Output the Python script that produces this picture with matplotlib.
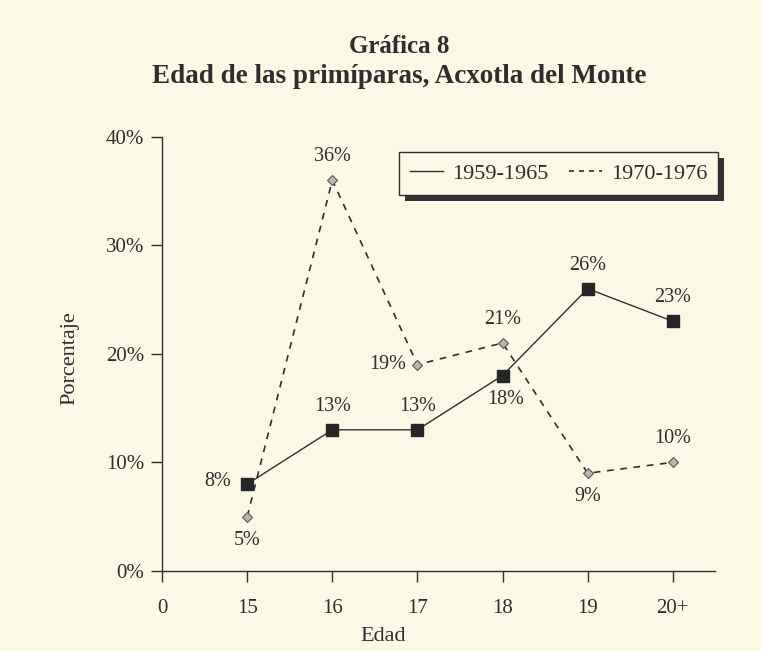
import matplotlib
matplotlib.use("Agg")
import matplotlib.pyplot as plt
from matplotlib.patches import Rectangle
from matplotlib.lines import Line2D

# Data
ages = ["15", "16", "17", "18", "19", "20+"]
tick_labels = ["0"] + ages
serie_1959 = [8, 13, 13, 18, 26, 23]
serie_1970 = [5, 36, 19, 21, 9, 10]
legend_labels = ["1959-1965", "1970-1976"]

BG = "#fbf9e5"
INK = "#2e2e2e"

plt.rcParams["font.family"] = ["Liberation Serif", "DejaVu Serif"]

fig = plt.figure(figsize=(7.61, 6.51), dpi=100, facecolor=BG)
ax = fig.add_axes([0.213, 0.123, 0.727, 0.667], facecolor=BG)

x = list(range(1, len(ages) + 1))

ax.plot(x, serie_1959, color=INK, lw=1.0, marker="s", ms=8.5,
        mfc="#262626", mec="#262626", zorder=3)
ax.plot(x, serie_1970, color=INK, lw=1.2, ls=(0, (4, 4)), marker="D", ms=5,
        mfc="#b8b8b0", mec="#555555", mew=0.8, zorder=3)

# data labels
lab_fs = 14.5
def lab(xi, yi, txt, dx, dy, ha="center"):
    ax.annotate(txt, (xi, yi), xytext=(dx, dy), textcoords="offset points",
                ha=ha, va="center", fontsize=lab_fs, color=INK)

pos59 = [(-12, 2, "right"), (0, 17, "center"), (0, 17, "center"),
         (2, -17, "center"), (0, 17, "center"), (0, 17, "center")]
pos70 = [(0, -17, "center"), (0, 17, "center"), (-8, 0, "right"),
         (0, 17, "center"), (0, -17, "center"), (0, 17, "center")]
for xi, v, (dx, dy, ha) in zip(x, serie_1959, pos59):
    lab(xi, v, f"{v}%", dx, dy, ha)
for xi, v, (dx, dy, ha) in zip(x, serie_1970, pos70):
    lab(xi, v, f"{v}%", dx, dy, ha)

ax.set_xlim(0, 6.5)
ax.set_ylim(0, 40)
ax.set_xticks(range(0, 7))
ax.set_xticklabels(tick_labels)
ax.set_yticks([0, 10, 20, 30, 40])
ax.set_yticklabels([f"{t}%" for t in [0, 10, 20, 30, 40]])
ax.tick_params(axis="both", direction="out", length=8, width=1, colors=INK,
               labelsize=15, pad=5)
ax.tick_params(axis="x", pad=12)
for s in ["top", "right"]:
    ax.spines[s].set_visible(False)
for s in ["left", "bottom"]:
    ax.spines[s].set_color(INK)
    ax.spines[s].set_linewidth(1.0)

ax.set_ylabel("Porcentaje", fontsize=16, color=INK)
ax.yaxis.set_label_coords(-0.15, 0.49)
ax.set_xlabel("Edad", fontsize=16, color=INK)
ax.xaxis.set_label_coords(0.40, -0.13)

# titles
fig.text(0.525, 0.928, "Gráfica 8", ha="center", va="center",
         fontsize=18, fontweight="bold", color=INK)
fig.text(0.525, 0.883, "Edad de las primíparas, Acxotla del Monte",
         ha="center", va="center", fontsize=19.5, fontweight="bold", color=INK)

# legend box with shadow
W, H = 761, 651
x0, y0, x1, y1 = 399, 152, 718, 195
fig.patches.append(Rectangle(((x0 + 6) / W, 1 - (y1 + 6) / H), (x1 - x0) / W,
                             (y1 - y0) / H, transform=fig.transFigure,
                             facecolor="#333333", edgecolor="none", zorder=5))
fig.patches.append(Rectangle((x0 / W, 1 - y1 / H), (x1 - x0) / W, (y1 - y0) / H,
                             transform=fig.transFigure, facecolor=BG,
                             edgecolor=INK, lw=1.0, zorder=6))
handles = [Line2D([], [], color=INK, lw=1.0),
           Line2D([], [], color=INK, lw=1.2, ls=(0, (3, 3)))]
leg = fig.legend(handles, legend_labels, loc="center",
                 bbox_to_anchor=((x0 + x1) / 2 / W, 1 - (y0 + y1) / 2 / H),
                 ncol=2, frameon=False, fontsize=16, handlelength=1.5,
                 handletextpad=0.4, columnspacing=0.9, labelcolor=INK)
leg.set_zorder(7)

fig.savefig("out.png", dpi=100, facecolor=BG)
